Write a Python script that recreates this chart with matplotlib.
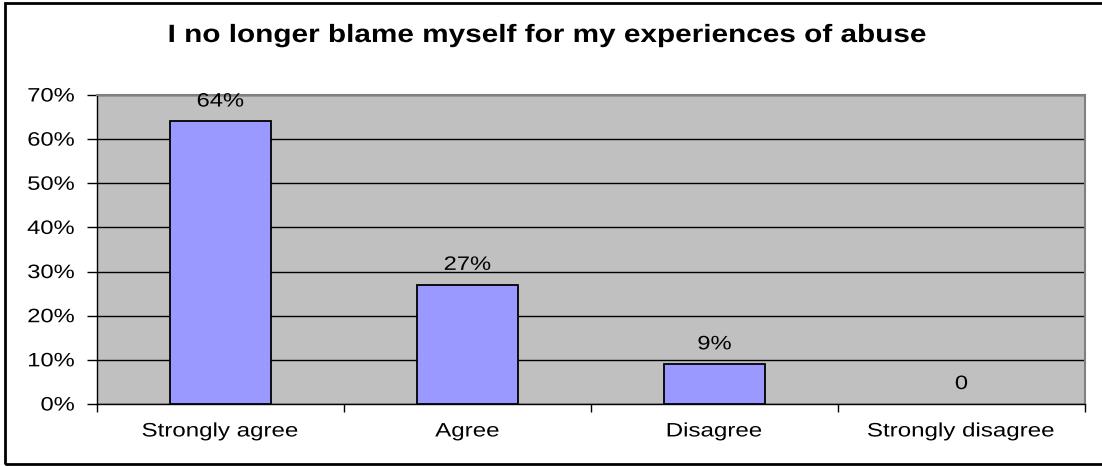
import numpy as np
import matplotlib.pyplot as plt
from matplotlib.patches import Rectangle
from matplotlib.patheffects import AbstractPathEffect
from matplotlib.transforms import Affine2D

plt.rcParams['font.family'] = ['Liberation Sans', 'DejaVu Sans']

title = "I no longer blame myself for my experiences of abuse"
categories = ["Strongly agree", "Agree", "Disagree", "Strongly disagree"]
percent = [64, 27, 9, 0]
labels = ["64%", "27%", "9%", "0"]


class Widen(AbstractPathEffect):
    """Stretch glyphs sideways about the left, centre or right of the text."""
    def __init__(self, sx, anchor='center'):
        super().__init__()
        self.sx = sx
        self.anchor = anchor

    def draw_path(self, renderer, gc, tpath, affine, rgbFace=None):
        ext = tpath.get_extents(affine)
        if self.anchor == 'left':
            x0 = ext.x0
        elif self.anchor == 'right':
            x0 = ext.x1
        else:
            x0 = (ext.x0 + ext.x1) / 2
        t = affine + Affine2D().translate(-x0, 0).scale(self.sx, 1).translate(x0, 0)
        renderer.draw_path(gc, tpath, t, rgbFace)


fig = plt.figure(figsize=(11.02, 4.66), dpi=100)
ax = fig.add_axes([97/1102, 62/466, 988/1102, 309/466])

x = np.arange(len(categories))
edges = ['black' if v > 0 else 'none' for v in percent]
ax.bar(x, percent, width=0.405, color='#9999FF', edgecolor=edges, linewidth=1.3, zorder=3)

for xi, v, lab in zip(x, percent, labels):
    ax.annotate(lab, (xi, v), xytext=(0, 14), textcoords='offset points',
                ha='center', va='center', fontsize=14,
                path_effects=[Widen(1.22)])

ax.set_facecolor('#C0C0C0')
ax.set_xlim(-0.5, len(categories) - 0.5)
ax.set_ylim(0, 70)
ax.set_yticks(np.arange(0, 71, 10))
ax.set_yticklabels(['%d%%' % t for t in range(0, 71, 10)])
ax.yaxis.grid(True, color='black', linewidth=1.0, zorder=1)
ax.set_axisbelow(True)

# boundaries get the tick marks, centres get the names
ax.set_xticks(np.arange(-0.5, len(categories), 1.0))
ax.set_xticklabels([])
ax.set_xticks(x, minor=True)
ax.set_xticklabels(categories, minor=True)
ax.tick_params(axis='x', which='major', length=6, width=1, direction='out')
ax.tick_params(axis='x', which='minor', length=0, pad=14, labelsize=14)
ax.tick_params(axis='y', length=7, width=1, direction='out', pad=9, labelsize=14)

for lab in ax.get_xticklabels(minor=True):
    lab.set_path_effects([Widen(1.24)])
for lab in ax.get_yticklabels():
    lab.set_path_effects([Widen(1.22, 'right')])

for side in ['top', 'right']:
    ax.spines[side].set_color('#808080')
    ax.spines[side].set_linewidth(1.5)
for side in ['left', 'bottom']:
    ax.spines[side].set_color('black')
    ax.spines[side].set_linewidth(1.0)

fig.text(0.497, 1 - 42/466, title, ha='center', va='baseline',
         fontsize=18, fontweight='bold', path_effects=[Widen(1.19)])

fig.patches.append(Rectangle((5/1102, 2/466), 1.1, 461/466, transform=fig.transFigure,
                             fill=False, edgecolor='black', linewidth=2))

fig.savefig('out.png', dpi=100)
